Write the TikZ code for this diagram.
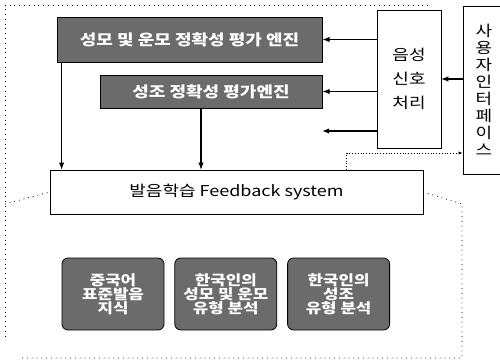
\documentclass[tikz,border=0pt]{standalone}
\usepackage{fontspec}
\setmainfont{Noto Sans CJK KR}[FakeStretch=1.2]
\usetikzlibrary{arrows.meta,positioning}

\begin{document}
\begin{tikzpicture}[
  x=1pt, y=-1pt,
  node distance=10pt and 10pt,
  engine/.style={draw, thick, fill=black!58, text=white, align=center,
    font=\fontsize{15}{17}\selectfont\bfseries},
  plain/.style={draw, fill=white, align=center},
  store/.style={draw, thick, rounded corners=6pt, fill=black!58, text=white,
    align=center, minimum width=102pt, minimum height=72pt,
    font=\fontsize{14}{14}\selectfont\bfseries},
  arr/.style={-{Latex[length=2.5mm]}, line width=1.1pt},
  frame/.style={loosely dotted, thick}
]
\useasboundingbox (0,0) rectangle (500,363);

\node[engine, minimum width=265pt, minimum height=45pt] (engA) at (189.5,39.5)
  {성모 및 운모 정확성 평가 엔진};
\node[engine, minimum width=222pt, minimum height=33pt] (engB) at (211,91.5)
  {성조 정확성 평가엔진};
\node[plain, minimum width=64pt, minimum height=138pt,
  font=\fontsize{15}{24}\selectfont] (proc) at (409,79) {음성\\신호\\처리};
\node[plain, minimum width=42pt, minimum height=168pt,
  font=\fontsize{15}{17}\selectfont] (ui) at (484,90)
  {사\\용\\자\\인\\터\\페\\이\\스};
\node[plain, minimum width=373pt, minimum height=44pt,
  font=\fontsize{15}{17}\selectfont] (fb) at (236.5,192)
  {발음학습 Feedback system};
\node[store] (dbA) at (113,294) {중국어\\표준발음\\지식};
\node[store, right=of dbA] (dbB) {한국인의\\성모 및 운모\\유형 분석};
\node[store, right=of dbB] (dbC) {한국인의\\성조\\유형 분석};

\coordinate (fbin) at (322,131);
\path (ui.west) ++(0,63) coordinate (uiin);

\draw[arr] (proc.west |- engA.east) -- (engA.east);
\draw[arr] (proc.west |- engB.east) -- (engB.east);
\draw[arr] (proc.west |- fbin) -- (fbin);
\draw[arr] (ui.west |- proc.east) -- (proc.east);
\draw[arr] ([xshift=5pt]engA.south west) -- ([xshift=5pt]engA.south west |- fb.north);
\draw[arr] ([xshift=-10pt]engB.south) -- ([xshift=-10pt]engB.south |- fb.north);
\draw[dotted, thick, -{Latex[length=1.5mm]}] ([xshift=110pt]fb.north) |- (uiin);
\draw[dotted, thick] ([xshift=81pt]uiin) -- ++(0,26);

\draw[frame] (428,5) -- (5,5) -- (5,337);
\draw[frame] (5,204) -- (fb.west);
\draw[frame] (fb.east) -- (462,204) -- (462,358) -- (22,358);
\end{tikzpicture}
\end{document}
